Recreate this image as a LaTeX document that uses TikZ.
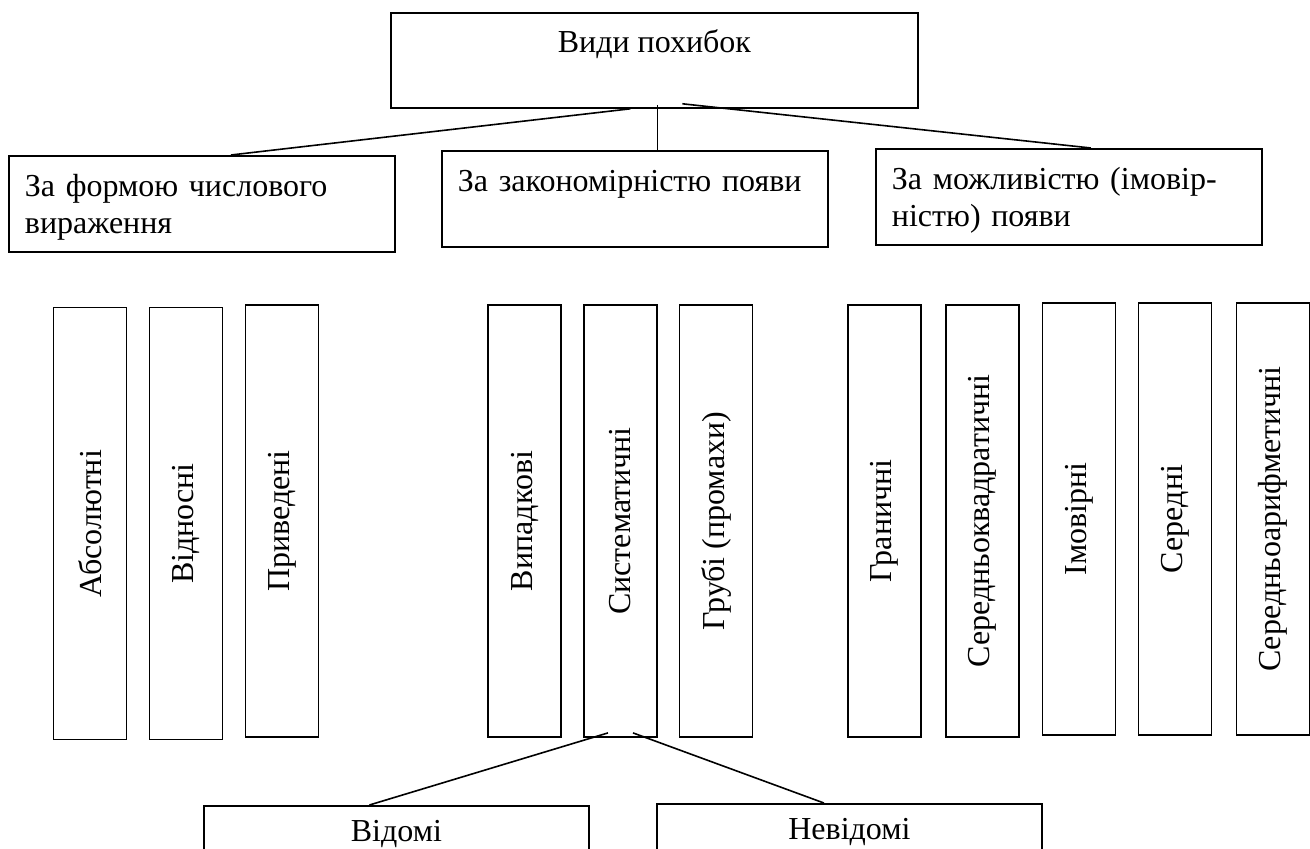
\documentclass[tikz,border=0pt]{standalone}
\usepackage{fontspec}
\setmainfont{Liberation Serif}
\usetikzlibrary{positioning}

\tikzset{
  box/.style={draw, line width=0.9pt, inner sep=0pt, font=\fontsize{16}{18.5}\selectfont},
  head/.style={box, anchor=north west, minimum width=263.5pt, text height=20pt, text depth=27.5pt, align=center},
  cat/.style={box, anchor=north west, text width=177pt, inner xsep=8pt, text height=20.5pt, text depth=27.5pt, align=left},
  kind/.style={box, rotate=90, minimum width=216pt, minimum height=36.5pt},
  sub/.style={box, anchor=north west, minimum width=192.5pt, text height=18pt, text depth=40pt},
  link/.style={line width=0.8pt}
}

\begin{document}
\begin{tikzpicture}[x=0.5pt, y=-0.5pt]
  \clip (0,0) rectangle (1310,849);
  \fill[white] (0,0) rectangle (1310,849);

  \node[head] (kinds) at (390,12) {Види похибок};
  \node[cat] (byform) at (8,155) {За формою числового\\вираження};
  \node[cat] (bylaw) at (441,150) {За закономірністю появи};
  \node[cat] (bychance) at (875,148) {За можливістю (імовір-\\ністю) появи};

  \node[kind] (abs) at (90,523.5) {Абсолютні};
  \node[kind] (rel) at (186,523.5) {Відносні};
  \node[kind] (redu) at (282,521) {Приведені};
  \node[kind] (rnd) at (524.5,521) {Випадкові};
  \node[kind] (sys) at (620.5,521) {Систематичні};
  \node[kind] (grs) at (716,521) {Грубі (промахи)};
  \node[kind] (lim) at (884.5,521) {Граничні};
  \node[kind] (rms) at (982.5,521) {Середньоквадратичні};
  \node[kind] (pe) at (1079,519) {Імовірні};
  \node[kind] (mean) at (1175,519) {Середні};
  \node[kind] (amean) at (1273,519) {Середньоарифметичні};

  \node[sub] (known) at (203,805) {Відомі};
  \node[sub] (unknown) at (656,803) {Невідомі};

  \draw[link] ([xshift=-12pt]kinds.south) -- ([xshift=14.5pt]byform.north);
  \draw[link] ([xshift=1.5pt,yshift=2pt]kinds.south) -- ([xshift=1.5pt]kinds.south |- bylaw.north);
  \draw[link] ([xshift=14pt,yshift=2.5pt]kinds.south) -- ([xshift=11pt]bychance.north);
  \draw[link] ([xshift=-6.25pt,yshift=2.5pt]sys.west) -- ([xshift=-13.5pt]known.north);
  \draw[link] ([xshift=6.25pt,yshift=2.5pt]sys.west) -- ([xshift=-12.75pt]unknown.north);
\end{tikzpicture}
\end{document}
